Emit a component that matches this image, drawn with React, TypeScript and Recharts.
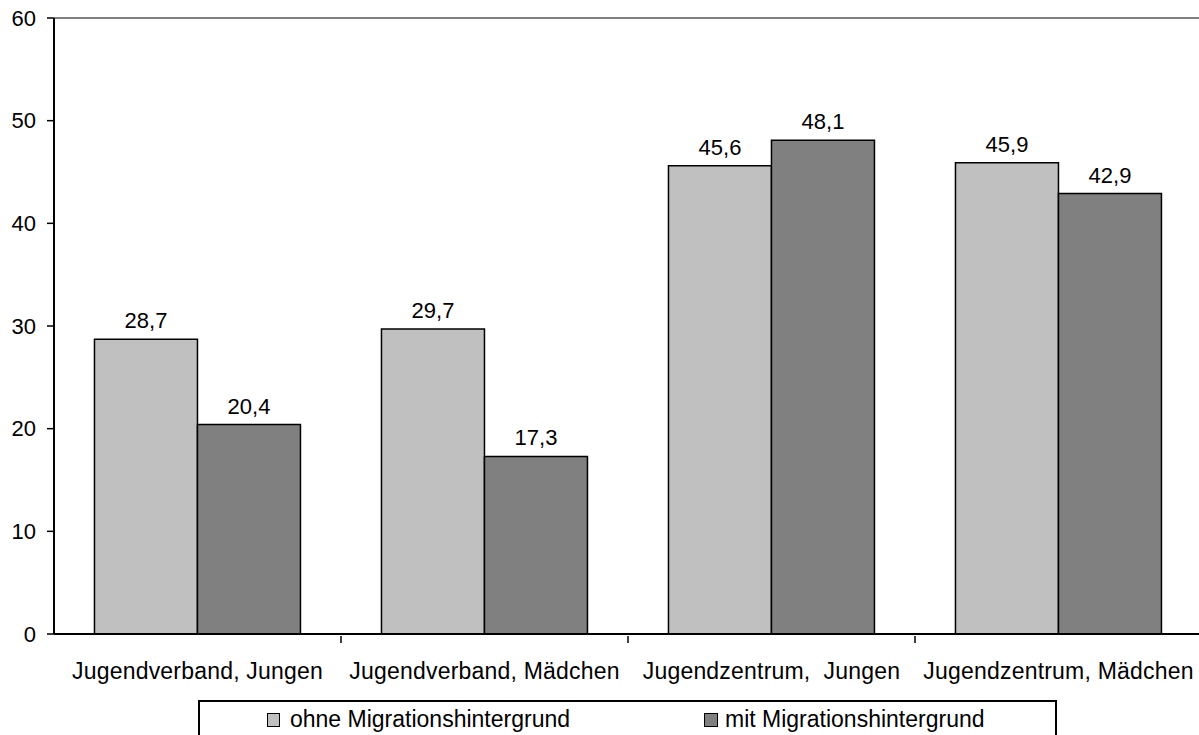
import React from "react";
import { BarChart, Bar, XAxis, YAxis, LabelList, ReferenceLine, Legend } from "recharts";

const categories = [
  "Jugendverband, Jungen",
  "Jugendverband, Mädchen",
  "Jugendzentrum,  Jungen",
  "Jugendzentrum, Mädchen",
];
const ohneValues = [28.7, 29.7, 45.6, 45.9];
const mitValues = [20.4, 17.3, 48.1, 42.9];
const yTicks = [0, 10, 20, 30, 40, 50, 60];
const seriesNames = ["ohne Migrationshintergrund", "mit Migrationshintergrund"];

const data = categories.map((c, i) => ({ cat: c, ohne: ohneValues[i], mit: mitValues[i] }));

const FONT = "'Liberation Sans', Arial, sans-serif";
const CHART_W = 1210;
const X_H = 60;
const MARGIN = { top: 18, right: 8, left: 0, bottom: 101 - X_H };
const Y_W = 54;
const PLOT_W = CHART_W - MARGIN.left - MARGIN.right - Y_W;
const BAND = PLOT_W / categories.length;

const XTick = (props: any) => {
  const { x, y, payload } = props;
  return (
    <g>
      <line x1={x + BAND / 2} x2={x + BAND / 2} y1={y} y2={y + 7} stroke="#000" strokeWidth={1.5} />
      <text x={x} y={y + 35} textAnchor="middle" dominantBaseline="central" fontSize={23} letterSpacing={0.2} fill="#000" fontFamily={FONT} style={{ whiteSpace: "pre" }}>
        {payload.value}
      </text>
    </g>
  );
};

const fmt = (v: any) => String(v).replace(".", ",");

const LegendBox = () => (
  <div
    style={{
      position: "absolute",
      left: 198,
      top: 700,
      width: 859,
      height: 60,
      border: "2px solid #000",
      boxSizing: "border-box",
      background: "#fff",
      fontFamily: FONT,
      fontSize: 23,
      color: "#000",
    }}
  >
    <div style={{ position: "absolute", left: 67, top: 11, width: 11, height: 12, background: "#C0C0C0", border: "1px solid #000" }} />
    <div style={{ position: "absolute", left: 90, top: 3, lineHeight: "28px", whiteSpace: "nowrap" }}>{seriesNames[0]}</div>
    <div style={{ position: "absolute", left: 504, top: 11, width: 12, height: 12, background: "#808080", border: "1px solid #000" }} />
    <div style={{ position: "absolute", left: 525, top: 3, lineHeight: "28px", whiteSpace: "nowrap" }}>{seriesNames[1]}</div>
  </div>
);

export default function App() {
  return (
    <div style={{ position: "absolute", left: 0, top: 0, width: 1199, height: 735, overflow: "hidden", background: "#fff" }}>
      <BarChart width={CHART_W} height={735} data={data} margin={MARGIN} barCategoryGap="14.1%" barGap={0}>
        <ReferenceLine y={60} stroke="#808080" strokeWidth={2} />
        <XAxis
          dataKey="cat"
          axisLine={{ stroke: "#000", strokeWidth: 2 }}
          tickLine={false}
          tickSize={0}
          tick={<XTick />}
          interval={0}
          height={X_H}
        />
        <YAxis
          domain={[0, 60]}
          ticks={yTicks}
          width={Y_W}
          axisLine={{ stroke: "#000", strokeWidth: 2 }}
          tickLine={{ stroke: "#000", strokeWidth: 1.5 }}
          tickSize={7}
          tickMargin={11}
          tick={{ fontSize: 22, fill: "#000", fontFamily: FONT }}
        />
        <Legend content={<LegendBox />} wrapperStyle={{ position: "absolute", left: 0, top: 0, width: 0, height: 0 }} />
        <Bar dataKey="ohne" name={seriesNames[0]} fill="#C0C0C0" stroke="#000" strokeWidth={1.5} isAnimationActive={false}>
          <LabelList dataKey="ohne" position="top" offset={11} formatter={fmt} style={{ fontSize: 22, fill: "#000", fontFamily: FONT }} />
        </Bar>
        <Bar dataKey="mit" name={seriesNames[1]} fill="#808080" stroke="#000" strokeWidth={1.5} isAnimationActive={false}>
          <LabelList dataKey="mit" position="top" offset={11} formatter={fmt} style={{ fontSize: 22, fill: "#000", fontFamily: FONT }} />
        </Bar>
      </BarChart>
    </div>
  );
}
